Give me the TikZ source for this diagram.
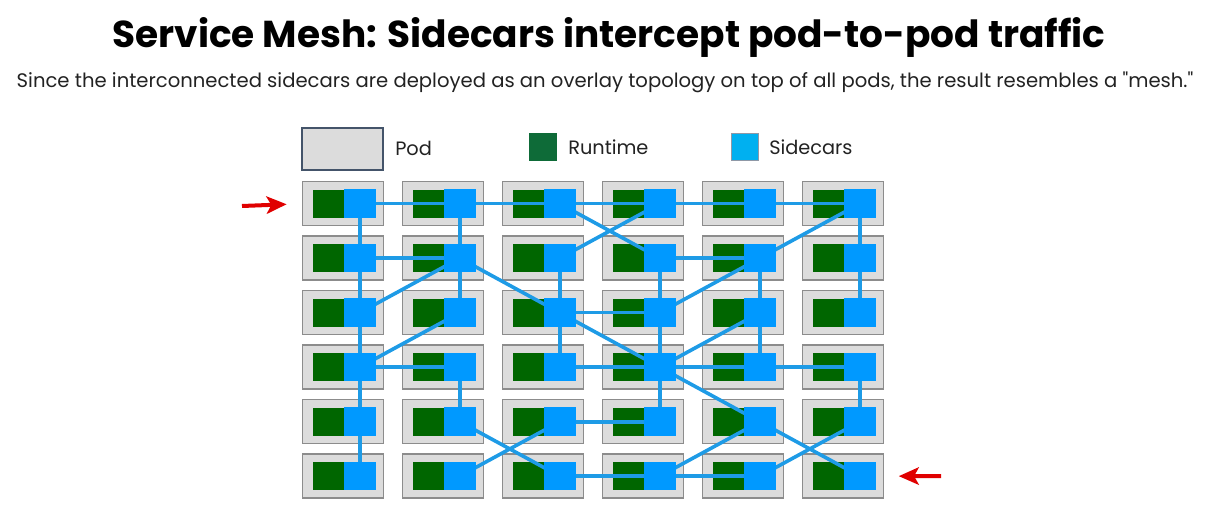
\documentclass[tikz,border=0pt]{standalone}
\usepackage{fontspec}
\setmainfont[Ligatures=TeXOff]{Poppins}
\usetikzlibrary{arrows.meta}
\definecolor{podfill}{HTML}{DCDCDC}
\definecolor{podline}{HTML}{8C8C8C}
\definecolor{rtgreen}{HTML}{006600}
\definecolor{scblue}{HTML}{0099FF}
\definecolor{linkblue}{HTML}{1E9BE6}
\definecolor{lgreen}{HTML}{0E6B38}
\definecolor{lblue}{HTML}{00B0F0}
\definecolor{lborder}{HTML}{44546A}
\definecolor{arrowred}{HTML}{E00000}
\definecolor{txt}{HTML}{222222}
\begin{document}
\begin{tikzpicture}[x=0.75pt,y=-0.75pt,
  pod/.style={draw=podline, fill=podfill, line width=1.1pt, inner sep=0pt,
    minimum width=60.5pt, minimum height=33pt},
  runtime/.style={fill=rtgreen, inner sep=0pt, minimum width=23.3pt, minimum height=21pt},
  sidecar/.style={fill=scblue, inner sep=0pt, minimum width=23.3pt, minimum height=21pt},
  link/.style={draw=linkblue, line width=2.7pt},
  legtext/.style={anchor=west, inner sep=0pt, font=\fontsize{14.5}{17}\selectfont, text=txt},
  redarrow/.style={draw=arrowred, line width=3pt, -{Stealth[length=15pt,width=13pt,inset=3.5pt]}}
]
\useasboundingbox (0,0) rectangle (1210,513);
\node[text=black, font=\fontsize{28.1}{33}\selectfont\bfseries] (title) at (609,37.5) {Service Mesh: Sidecars intercept pod-to-pod traffic};
\node[text=txt, font=\fontsize{14.7}{17}\selectfont] (sub) at (605,82) {Since the interconnected sidecars are deployed as an overlay topology on top of all pods, the result resembles a "mesh."};
% legend
\node[draw=lborder, fill=podfill, line width=0.8pt, inner sep=0pt, minimum width=60.75pt, minimum height=31.5pt] (lpod) at (342.5,149) {};
\node[legtext] (lpodt) at (395,148) {Pod};
\node[fill=lgreen, inner sep=0pt, minimum size=21pt] (lrt) at (543,147) {};
\node[legtext] (lrtt) at (568,147) {Runtime};
\node[draw=lborder!60, line width=0.4pt, fill=lblue, inner sep=0pt, minimum size=20.5pt] (lsc) at (745,147) {};
\node[legtext] (lsct) at (769,147) {Sidecars};
% pods
\foreach \r in {1,...,6}{
  \foreach \c in {1,...,6}{
    \node[pod] (p-\r-\c) at ({343+100*(\c-1)},{203.7+54.5*(\r-1)}) {};
    \node[runtime] (g-\r-\c) at ({328.6+100*(\c-1)},{203.7+54.5*(\r-1)}) {};
    \node[sidecar] (s-\r-\c) at ({359.8+100*(\c-1)},{203.7+54.5*(\r-1)}) {};
  }
}
% links
\foreach \a/\b in {1-1/1-2, 1-2/1-3, 1-3/1-4, 1-4/1-5, 1-5/1-6,
  1-1/2-1, 2-1/3-1, 3-1/4-1, 4-1/5-1, 5-1/6-1,
  1-2/2-2, 2-2/3-2, 2-1/2-2, 3-1/2-2, 2-2/3-3, 3-2/4-1,
  1-3/2-4, 2-3/1-4, 2-3/3-3, 3-3/3-4, 3-3/4-4, 3-3/4-3,
  2-4/2-5, 2-4/3-4, 2-5/1-6, 1-6/2-6, 2-6/3-6, 3-4/2-5, 2-5/3-5, 3-5/4-4, 3-4/4-4, 3-5/4-5,
  4-1/4-2, 4-3/4-4, 4-4/4-5, 4-5/4-6, 4-4/5-4, 4-4/5-5, 5-5/6-6, 5-5/6-4, 4-6/5-6, 5-6/6-5,
  6-4/6-5, 6-3/6-4, 5-3/5-4, 4-2/5-2, 5-2/6-3, 6-2/5-3}{
  \draw[link] (s-\a.center) -- (s-\b.center);
}
% redraw sidecars on top
\foreach \r in {1,...,6}{
  \foreach \c in {1,...,6}{
    \fill[scblue] (s-\r-\c.south west) rectangle (s-\r-\c.north east);
  }
}
% red arrows
\coordinate (ain) at (242,206);
\coordinate (aout) at (941,476);
\draw[redarrow, shorten >=11.5pt] (ain) -- (p-1-1.west);
\draw[redarrow, shorten >=11pt] (aout) -- (p-6-6.east);
\end{tikzpicture}
\end{document}
